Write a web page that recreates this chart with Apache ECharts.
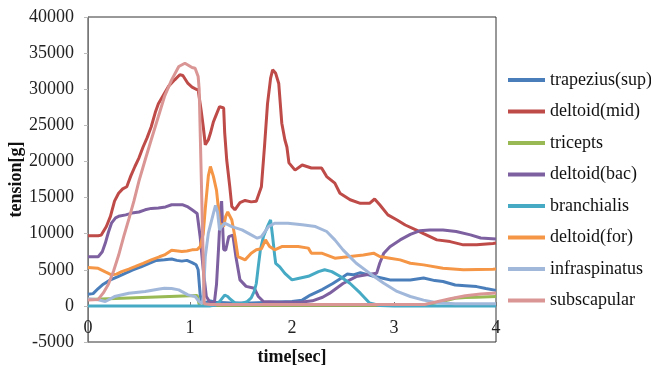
<!DOCTYPE html>
<html>
<head>
<meta charset="utf-8">
<script src="https://cdn.jsdelivr.net/npm/echarts@6/dist/echarts.min.js"></script>
<style>
  html, body { margin: 0; padding: 0; background: #fff; }
  #chart { width: 651px; height: 365px; }
</style>
</head>
<body>
<div id="chart"></div>
<script>
// [time (sec), tension (g)]
const trapeziusSup = [
  [0, 1600], [0.05, 1700], [0.1, 2400], [0.15, 3000], [0.22, 3600], [0.3, 4100],
  [0.38, 4600], [0.44, 5000], [0.52, 5400], [0.6, 5900], [0.67, 6300], [0.75, 6400],
  [0.82, 6500], [0.87, 6300], [0.92, 6200], [0.97, 6300], [1.02, 6000], [1.06, 5700],
  [1.08, 5000], [1.1, 1500], [1.12, 300], [1.2, 700], [1.25, 500], [1.4, 400],
  [1.6, 400], [1.8, 500], [2.0, 600], [2.1, 800], [2.18, 1500], [2.3, 2300],
  [2.4, 3100], [2.5, 4000], [2.54, 4400], [2.6, 4300], [2.67, 4600], [2.75, 4300],
  [2.8, 4100], [2.9, 3800], [2.96, 3600], [3.06, 3600], [3.16, 3600], [3.29, 3850],
  [3.4, 3500], [3.48, 3370], [3.6, 2900], [3.7, 2800], [3.81, 2670], [3.9, 2400], [4.0, 2150]
];
const deltoidMid = [
  [0, 9700], [0.1, 9700], [0.13, 9800], [0.18, 11000], [0.22, 12400], [0.26, 14500],
  [0.3, 15600], [0.34, 16200], [0.38, 16500], [0.42, 18000], [0.46, 19300], [0.5, 20500],
  [0.54, 22000], [0.58, 23300], [0.62, 24800], [0.66, 26800], [0.69, 28000], [0.74, 29200],
  [0.79, 30400], [0.85, 31300], [0.9, 32000], [0.93, 31900], [0.98, 30800], [1.02, 30300],
  [1.06, 30000], [1.08, 29900], [1.11, 27000], [1.13, 24800], [1.15, 22300], [1.18, 23000],
  [1.2, 23900], [1.23, 25500], [1.25, 26200], [1.29, 27600], [1.33, 27400], [1.34, 24000],
  [1.36, 20200], [1.39, 16500], [1.41, 13750], [1.44, 13300], [1.49, 14300], [1.54, 14600],
  [1.6, 14400], [1.65, 14500], [1.7, 16500], [1.73, 22000], [1.76, 28000], [1.79, 31500],
  [1.81, 32700], [1.84, 32200], [1.87, 30800], [1.9, 25300], [1.93, 23000], [1.95, 22000],
  [1.97, 19800], [2.03, 18800], [2.1, 19500], [2.19, 19100], [2.29, 19100], [2.34, 17900],
  [2.42, 17000], [2.47, 15600], [2.57, 14700], [2.67, 14200], [2.76, 14200], [2.81, 14800],
  [2.86, 14000], [2.94, 12600], [3.03, 11900], [3.11, 11200], [3.22, 10500], [3.29, 10000],
  [3.42, 9140], [3.55, 8900], [3.68, 8450], [3.81, 8450], [3.97, 8650], [4.0, 8700]
];
const tricepts = [
  [0, 900], [0.2, 1000], [0.4, 1100], [0.6, 1200], [0.8, 1300], [1.0, 1400], [1.07, 1450],
  [1.09, 200], [1.2, 100], [2.0, 100], [3.0, 100], [3.3, 150], [3.4, 400], [3.48, 650],
  [3.6, 1050], [3.7, 1150], [3.81, 1200], [4.0, 1300]
];
const deltoidBac = [
  [0, 6800], [0.1, 6800], [0.14, 7500], [0.17, 8700], [0.2, 10200], [0.23, 11450],
  [0.27, 12200], [0.3, 12400], [0.37, 12600], [0.43, 12850], [0.5, 13000], [0.56, 13300],
  [0.62, 13500], [0.69, 13550], [0.76, 13700], [0.82, 14000], [0.93, 14000], [0.98, 13700],
  [1.02, 13300], [1.07, 12800], [1.1, 9500], [1.13, 5000], [1.16, 1300], [1.2, 400],
  [1.24, 600], [1.26, 3000], [1.28, 8000], [1.3, 13500], [1.31, 14500], [1.32, 11000],
  [1.33, 7800], [1.35, 7700], [1.38, 9600], [1.42, 9800], [1.45, 6800], [1.49, 3600],
  [1.55, 2700], [1.63, 2450], [1.67, 1300], [1.72, 600], [1.9, 500], [2.1, 550],
  [2.2, 700], [2.3, 1200], [2.37, 1760], [2.5, 3100], [2.63, 4060], [2.73, 4300],
  [2.83, 4530], [2.86, 5900], [2.9, 7300], [2.96, 8200], [3.06, 9140], [3.16, 9900],
  [3.25, 10400], [3.35, 10500], [3.48, 10500], [3.61, 10300], [3.75, 9830], [3.85, 9400], [4.0, 9250]
];
const branchialis = [
  [0, 0], [1.2, 0], [1.25, 100], [1.29, 600], [1.34, 1500], [1.37, 1300], [1.39, 1000],
  [1.44, 400], [1.5, 300], [1.56, 600], [1.6, 1100], [1.63, 2000], [1.65, 3100],
  [1.67, 5500], [1.69, 7760], [1.72, 9600], [1.76, 11000], [1.79, 11900], [1.81, 9600],
  [1.83, 7000], [1.84, 5900], [1.88, 5400], [1.93, 4500], [2.0, 3600], [2.06, 3800],
  [2.16, 4100], [2.26, 4750], [2.32, 5000], [2.39, 4750], [2.47, 4100], [2.57, 3100],
  [2.67, 1760], [2.76, 400], [2.86, 50], [3.0, 0], [4.0, 0]
];
const deltoidFor = [
  [0, 5300], [0.1, 5200], [0.17, 4700], [0.23, 4300], [0.28, 4400], [0.33, 4750],
  [0.4, 5100], [0.46, 5440], [0.54, 5900], [0.62, 6370], [0.7, 6800], [0.75, 7060],
  [0.82, 7700], [0.88, 7600], [0.92, 7520], [0.97, 7600], [1.02, 7760], [1.07, 7800],
  [1.1, 8210], [1.13, 10000], [1.15, 13500], [1.18, 18000], [1.2, 19300], [1.23, 17900],
  [1.26, 16000], [1.28, 13300], [1.29, 11450], [1.33, 11000], [1.35, 12400], [1.37, 13000],
  [1.41, 11900], [1.44, 9600], [1.47, 6830], [1.54, 6370], [1.6, 7300], [1.65, 7760],
  [1.7, 7900], [1.74, 9140], [1.78, 8210], [1.83, 7760], [1.9, 8210], [2.06, 8210],
  [2.16, 8000], [2.19, 7300], [2.29, 7300], [2.42, 6600], [2.57, 6830], [2.7, 7060],
  [2.8, 7300], [2.86, 6830], [2.96, 6600], [3.06, 6370], [3.16, 5900], [3.29, 5680],
  [3.48, 5220], [3.68, 5000], [3.97, 5080], [4.0, 5100]
];
const infraspinatus = [
  [0, 1000], [0.1, 850], [0.17, 600], [0.26, 1290], [0.4, 1760], [0.56, 2000], [0.7, 2350],
  [0.75, 2450], [0.82, 2400], [0.89, 2220], [0.98, 1520], [1.05, 1290], [1.09, 600],
  [1.12, 300], [1.13, 1290], [1.15, 6830], [1.18, 10070], [1.23, 12840], [1.25, 13900],
  [1.27, 13000], [1.29, 10500], [1.31, 11000], [1.34, 11450], [1.41, 10980], [1.51, 10530],
  [1.6, 9830], [1.66, 9370], [1.7, 9600], [1.77, 10980], [1.83, 11450], [1.96, 11450],
  [2.1, 11220], [2.23, 10980], [2.34, 10300], [2.42, 9140], [2.5, 7760], [2.63, 5900],
  [2.76, 4530], [2.9, 3140], [3.03, 2000], [3.16, 1300], [3.29, 800], [3.42, 450],
  [3.6, 300], [4.0, 300]
];
const subscapular = [
  [0, 800], [0.1, 900], [0.15, 1800], [0.2, 3000], [0.25, 4800], [0.3, 7000], [0.35, 9600],
  [0.4, 12000], [0.45, 14500], [0.5, 17300], [0.56, 20200], [0.62, 23000], [0.69, 26220],
  [0.75, 29000], [0.82, 31300], [0.89, 33150], [0.95, 33600], [1.02, 33000], [1.05, 32900],
  [1.08, 31750], [1.09, 30000], [1.14, 300], [1.2, 200], [2.0, 200], [3.0, 200], [3.3, 200],
  [3.4, 500], [3.55, 1000], [3.7, 1400], [3.85, 1650], [4.0, 1800]
];

const names = ['trapezius(sup)', 'deltoid(mid)', 'tricepts', 'deltoid(bac)',
  'branchialis', 'deltoid(for)', 'infraspinatus', 'subscapular'];
const values = [trapeziusSup, deltoidMid, tricepts, deltoidBac,
  branchialis, deltoidFor, infraspinatus, subscapular];
const colors = ['#4A7EBB', '#BE4B48', '#98B954', '#7D60A0',
  '#46AAC5', '#F59646', '#A2B8DA', '#DA9694'];

const chart = echarts.init(document.getElementById('chart'));
const serif = 'Liberation Serif';

let series = [];
for (let i = 0; i < names.length; i++) {
  series.push({
    name: names[i],
    type: 'line',
    data: values[i],
    showSymbol: false,
    lineStyle: { width: 3, color: colors[i] },
    itemStyle: { color: colors[i] },
  });
}

chart.setOption({
  animation: false,
  color: colors,
  grid: {
    left: 88, right: 155, top: 17, bottom: 23,
    containLabel: false,
    outerBoundsMode: 'none',
    show: true, borderColor: '#333', borderWidth: 1,
  },
  legend: {
    orient: 'vertical',
    left: 503, top: 65,
    icon: 'rect',
    itemWidth: 37, itemHeight: 4,
    itemGap: 11.5,
    textStyle: { fontFamily: serif, fontSize: 18, color: '#111', lineHeight: 20 },
    data: names,
  },
  xAxis: {
    type: 'value',
    position: 'bottom',
    offset: -36,  // the time axis sits on tension = 0, 36px above the frame bottom
    min: 0, max: 4, interval: 1,
    name: 'time[sec]',
    nameLocation: 'middle',
    nameGap: 42,
    nameMoveOverlap: false,
    nameTextStyle: { fontFamily: serif, fontSize: 18, fontWeight: 'bold', color: '#111' },
    axisLine: { onZero: false, lineStyle: { color: '#777' } },
    axisTick: { inside: true, length: 4, lineStyle: { color: '#777' } },
    axisLabel: { fontFamily: serif, fontSize: 18, color: '#222', margin: 13 },
    splitLine: { show: false },
  },
  yAxis: {
    type: 'value',
    min: -5000, max: 40000, interval: 5000,
    name: 'tension[g]',
    nameLocation: 'middle',
    nameGap: 63,
    nameMoveOverlap: false,
    nameTextStyle: { fontFamily: serif, fontSize: 18, fontWeight: 'bold', color: '#111' },
    axisLine: { show: true, onZero: false, lineStyle: { color: '#777' } },
    axisTick: { show: true, length: 4, lineStyle: { color: '#bbb' } },
    axisLabel: {
      fontFamily: serif, fontSize: 18, color: '#222', margin: 14,
      formatter: (v) => String(v),
    },
    splitLine: { show: false },
  },
  series: series,
});
</script>
</body>
</html>
